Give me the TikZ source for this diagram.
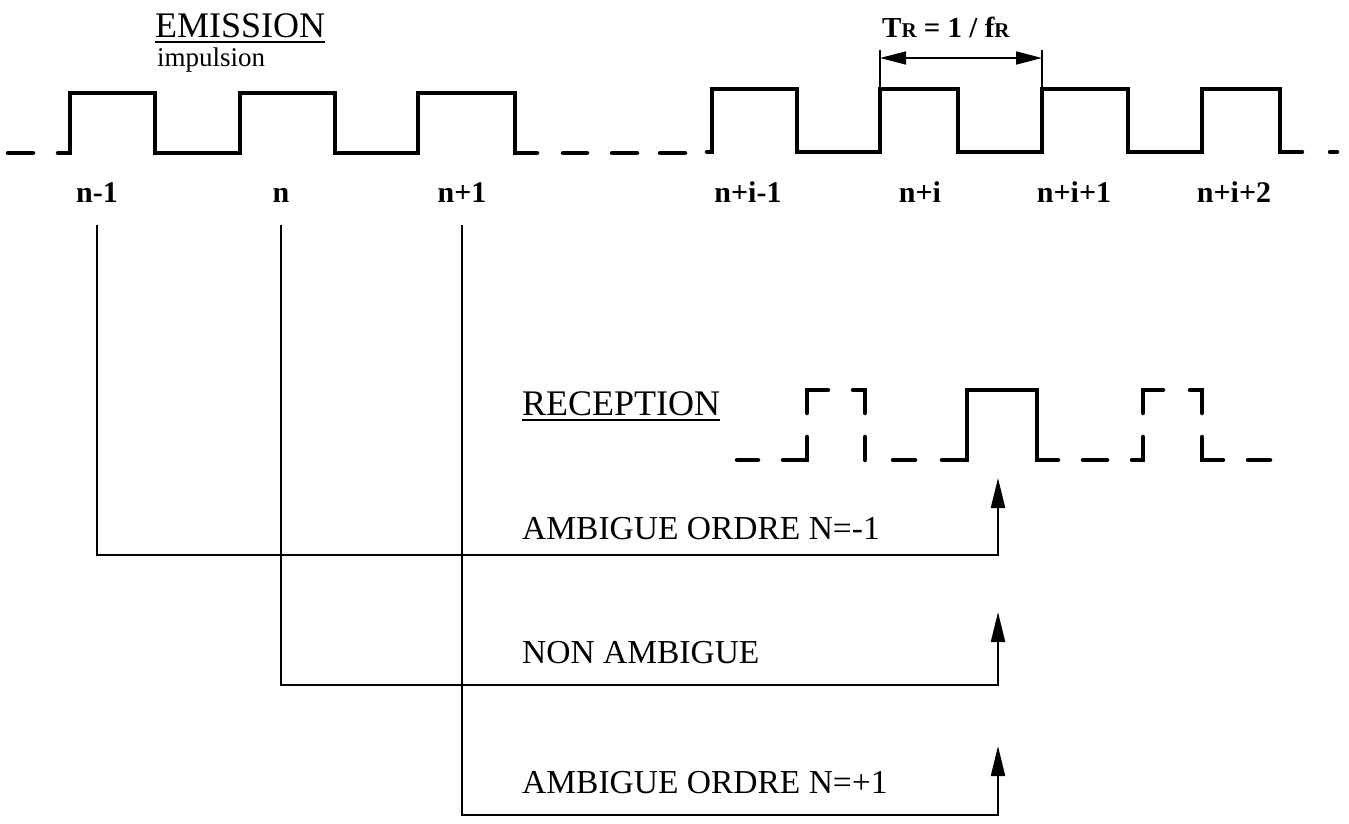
\documentclass[tikz,border=0pt]{standalone}
\usepackage{fontspec}
\setmainfont{Liberation Serif}
\usetikzlibrary{arrows.meta,calc}
\begin{document}
\begin{tikzpicture}[x=1pt,y=-1pt,
  wave/.style={line width=4.5pt,line cap=round,line join=miter},
  wire/.style={line width=2.2pt,line join=miter},
  uptip/.style={-{Triangle[length=30pt,width=14pt]}},
  dimtip/.style={{Triangle[length=26pt,width=13pt]}-{Triangle[length=26pt,width=13pt]}},
  lbl/.style={inner sep=0pt,anchor=base,font=\fontsize{30}{32}\selectfont\bfseries},
  body/.style={inner sep=0pt,anchor=base west,font=\fontsize{33.5}{36}\selectfont},
  title/.style={inner sep=0pt,anchor=base west,font=\fontsize{36}{40}\selectfont},
  uline/.style={line width=2.5pt}
]
\useasboundingbox (0,0) rectangle (1349,823);

% ---------- titles ----------
\node[title] (emi) at (155,37) {EMISSION};
\draw[uline] ($(emi.base west)+(0,5)$) -- ($(emi.base east)+(0,5)$);
\node[inner sep=0pt,anchor=base west,font=\fontsize{27}{30}\selectfont] (imp) at (157,66) {impulsion};

\node[title] (rec) at (522,415) {RECEPTION};
\draw[uline] ($(rec.base west)+(0,5)$) -- ($(rec.base east)+(0,5)$);

% ---------- emission pulse train ----------
\draw[wave] (8,153) -- (33,153);
\draw[wave] (58,153) -- (70,153) -- (70,93) -- (155,93) -- (155,153) -- (240,153) -- (240,93)
  -- (335,93) -- (335,153) -- (418,153) -- (418,93) -- (515,93) -- (515,153) -- (537,153);
\draw[wave] (563,153) -- (587,153);
\draw[wave] (612,153) -- (637,153);
\draw[wave] (660,153) -- (685,153);
\draw[wave] (707,152) -- (712,152) -- (712,89) -- (797,89) -- (797,152) -- (880,152) -- (880,89)
  -- (958,89) -- (958,152) -- (1042,152) -- (1042,89) -- (1128,89) -- (1128,152) -- (1202,152)
  -- (1202,89) -- (1280,89) -- (1280,152) -- (1302,152);
\draw[wave] (1330,152) -- (1337,152);

% ---------- period dimension ----------
\coordinate (dL) at (880,58);
\coordinate (dR) at (1042,58);
\draw[wire] (880,50) -- (880,89);
\draw[wire] (1042,50) -- (1042,89);
\draw[line width=1.6pt,dimtip] (dL) -- (dR);
\node[inner sep=0pt,anchor=base west,font=\fontsize{29}{32}\selectfont\bfseries] (tr) at (882,37)
  {T{\fontsize{21}{24}\selectfont R} = 1 / f{\fontsize{21}{24}\selectfont R}};

% ---------- pulse labels ----------
\node[lbl] (lnm1) at (97,202) {n-1};
\node[lbl] (ln)   at (281,202) {n};
\node[lbl] (lnp1) at (462,202) {n+1};
\node[lbl] (li0)  at (748,202) {n+i-1};
\node[lbl] (li1)  at (920,202) {n+i};
\node[lbl] (li2)  at (1074,202) {n+i+1};
\node[lbl] (li3)  at (1234,202) {n+i+2};

% ---------- reception pulse train ----------
\draw[wave] (737,460) -- (758,460);
\draw[wave] (783,460) -- (807,460) -- (807,437);
\draw[wave] (807,413) -- (807,390) -- (828,390);
\draw[wave] (853,390) -- (865,390) -- (865,413);
\draw[wave] (865,437) -- (865,460);
\draw[wave] (893,460) -- (915,460);
\draw[wave] (942,460) -- (967,460) -- (967,390) -- (1037,390) -- (1037,460) -- (1058,460);
\draw[wave] (1083,460) -- (1107,460);
\draw[wave] (1132,460) -- (1143,460) -- (1143,437);
\draw[wave] (1143,413) -- (1143,390) -- (1163,390);
\draw[wave] (1190,390) -- (1202,390) -- (1202,413);
\draw[wave] (1202,437) -- (1202,460) -- (1223,460);
\draw[wave] (1248,460) -- (1270,460);

% ---------- connectors ----------
\coordinate (sA) at (97,225);
\coordinate (sB) at (281,225);
\coordinate (sC) at (462,225);
\coordinate (kA) at (998,555);
\coordinate (kB) at (998,685);
\coordinate (kC) at (998,815);
\coordinate (tA) at (998,478);
\coordinate (tB) at (998,612);
\coordinate (tC) at (998,746);

\draw[wire,uptip] (sA) |- (kA) -- (tA);
\draw[wire,uptip] (sB) |- (kB) -- (tB);
\draw[wire,uptip] (sC) |- (kC) -- (tC);

% ---------- case labels ----------
\node[body] (cA) at (522,539) {AMBIGUE ORDRE N=-1};
\node[body] (cB) at (522,663) {NON AMBIGUE};
\node[body] (cC) at (522,793) {AMBIGUE ORDRE N=+1};
\end{tikzpicture}
\end{document}
